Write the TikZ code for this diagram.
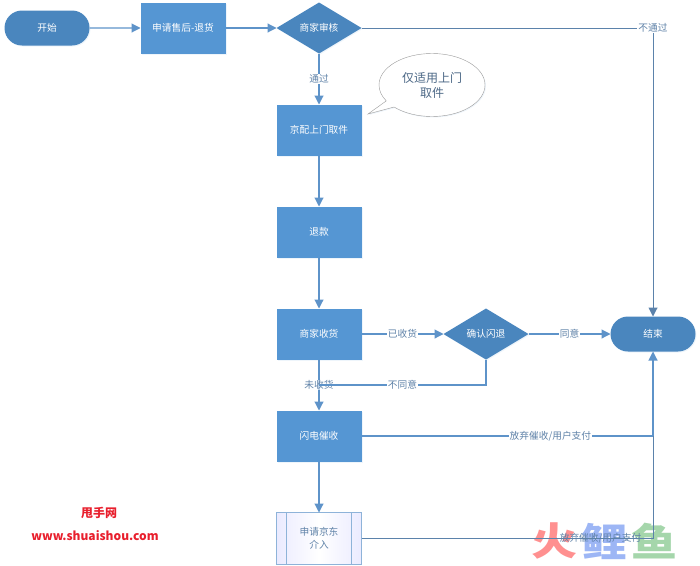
\documentclass[tikz,border=0pt]{standalone}
\usepackage{fontspec}
\setmainfont{Noto Sans CJK SC}
\usepackage{xcolor}
\usetikzlibrary{arrows.meta,positioning,shapes.geometric,shapes.misc,shapes.callouts,shadows}
\definecolor{boxblue}{HTML}{5596D3}
\definecolor{darkblue}{HTML}{4A86BE}
\definecolor{lineblue}{HTML}{5E93C9}
\definecolor{linedark}{HTML}{5B82AB}
\definecolor{labelblue}{HTML}{5F82A8}
\definecolor{markred}{HTML}{E81F2D}
\definecolor{fishred}{HTML}{FF9090}
\definecolor{fishblue}{HTML}{9DB6F5}
\definecolor{fishgreen}{HTML}{A5D6AB}

\begin{document}
\begin{tikzpicture}[
    x=1pt, y=1pt,
    node distance=51pt and 51pt,
    soft/.style={drop shadow={shadow xshift=1pt, shadow yshift=-1pt, opacity=0.2, fill=boxblue!50}},
    box/.style={soft, fill=boxblue, text=white, minimum width=85pt, minimum height=51pt, align=center, inner sep=0pt, outer sep=0pt, font=\fontsize{9.7}{12}\selectfont},
    terminal/.style={box, rounded rectangle, fill=darkblue, minimum height=35pt},
    decision/.style={box, diamond, fill=darkblue, aspect=1.667},
    subproc/.style={draw=lineblue!70, left color=blue!8, right color=blue!8, middle color=white, text=labelblue, minimum width=85pt, minimum height=52pt, align=center, inner sep=0pt, outer sep=0pt, font=\fontsize{9.7}{13}\selectfont},
    arrow/.style={-{Triangle[length=9pt,width=9pt]}, draw=lineblue, line width=1.1pt},
    plain/.style={draw=linedark, line width=1pt},
    tag/.style={fill=white, text=labelblue, inner sep=1pt, font=\fontsize{9.7}{12}\selectfont},
    sitemark/.style={text=markred, font=\bfseries\fontsize{12}{14}\selectfont, inner sep=0pt},
    fish/.style={font=\bfseries\fontsize{46}{46}\selectfont, inner sep=0pt, yscale=0.84}
  ]
  \useasboundingbox (0,0) rectangle (700,-565);

  % Watermarks
  \node[fish, text=fishred] (fish_a) at (554,-541) {火};
  \node[fish, text=fishblue] (fish_b) at (604,-541) {鲤};
  \node[fish, text=fishgreen] (fish_c) at (654,-541) {鱼};
  \node[sitemark] (site_name) at (99,-513) {甩手网};
  \node[sitemark] (site_url) at (95,-536) {www.shuaishou.com};

  % Top row
  \node[terminal] (start) at (47,-28) {开始};
  \node[box, right=of start] (apply) {申请售后-退货};
  \node[decision, right=of apply] (audit) {商家审核};

  % Main column
  \node[box, below=of audit] (pickup) {京配上门取件};
  \node[box, below=of pickup] (refund) {退款};
  \node[box, below=of refund] (receive) {商家收货};
  \node[box, below=of receive] (urge) {闪电催收};
  \node[subproc, below=of urge] (appeal) {申请京东\\介入};
  \draw[draw=lineblue!70] ([xshift=10pt]appeal.north west) -- ([xshift=10pt]appeal.south west);
  \draw[draw=lineblue!70] ([xshift=-10pt]appeal.north east) -- ([xshift=-10pt]appeal.south east);

  % Right side
  \node[decision, right=82pt of receive] (confirm) {确认闪退};
  \node[terminal, right=82pt of confirm] (finish) {结束};

  % Note
  \node[ellipse callout, soft, draw=gray!80, fill=white, text=labelblue!80!black, minimum width=106pt, minimum height=63pt, align=center, inner sep=0pt, callout absolute pointer={(368,-114)}, callout pointer arc=14, font=\fontsize{12}{15}\selectfont] (note) at (432,-85) {仅适用上门\\取件};

  % Connections
  \draw[arrow] (start) -- (apply);
  \draw[arrow] (apply) -- (audit);
  \draw[arrow] (audit) -- node[tag] (lbl_pass) {通过} (pickup);
  \draw[arrow] (pickup) -- (refund);
  \draw[arrow] (refund) -- (receive);
  \draw[arrow] (receive) -- node[tag] (lbl_got) {已收货} (confirm);
  \draw[arrow] (confirm) -- node[tag] (lbl_agree) {同意} (finish);
  \draw[arrow] (receive) -- node[tag, midway, fill opacity=0.6, text opacity=1] (lbl_none) {未收货} (urge);
  \draw[arrow] (urge) -- (appeal);

  \coordinate (merge) at (receive.south |- 0,-385);
  \draw[draw=lineblue, line width=1.1pt] (confirm) |- node[tag, pos=0.75] (lbl_refuse) {不同意} (merge);

  \draw[arrow, draw=linedark, line width=1pt] (audit) -| node[tag, pos=0.5] (lbl_fail) {不通过} (finish);
  \draw[arrow] (urge) -| node[tag, pos=0.324] (lbl_drop) {放弃催收/用户支付} (finish);
  \coordinate (join) at (finish |- urge);
  \draw[plain] (appeal) -| node[tag, pos=0.41, fill opacity=0, text opacity=1] (lbl_drop2) {放弃催收/用户支付} (join);

\end{tikzpicture}
\end{document}
